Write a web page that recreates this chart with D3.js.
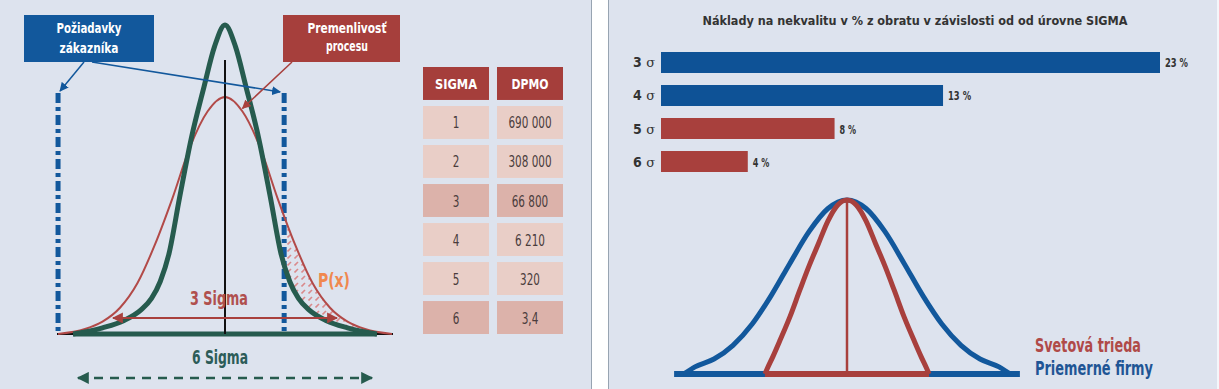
<!DOCTYPE html>
<html>
<head>
<meta charset="utf-8">
<script src="https://cdn.jsdelivr.net/npm/d3@7"></script>
<style>
  body { margin: 0; background: #dde3ee; }
  svg { display: block; }
</style>
</head>
<body>
<div id="chart"></div>
<script>
// ---- data ----
// table: sigma level vs defects per million opportunities
var tableSigma = ["1", "2", "3", "4", "5", "6"];
var tableDpmo = ["690 000", "308 000", "66 800", "6 210", "320", "3,4"];
var tableDark = [false, false, true, false, false, true];

// cost of poor quality (% of turnover) by sigma level
var costLevels = ["3", "4", "5", "6"];
var costPct = [23, 13, 8, 4];
var costGroup = ["avg", "avg", "world", "world"];

// left diagram, half curves (x in sigma units from centre, relative height)
var narrowX = [0, 0.3, 0.6, 0.95, 1.3, 1.6, 1.85, 2.1, 2.4, 2.9, 3.5, 4.34];
var narrowH = [1, 0.93, 0.8, 0.64, 0.44, 0.26, 0.17, 0.115, 0.078, 0.043, 0.02, 0];
var wideX = [0, 0.5, 1, 1.5, 2, 2.5, 3, 3.5, 4, 4.77];
var wideH = [0.767, 0.72, 0.605, 0.44, 0.29, 0.165, 0.085, 0.04, 0.016, 0];
var specLimits = [-4.77, 1.69];

// right diagram, half curves
var avgX = [0, 0.5, 1, 1.5, 2, 2.5, 3, 3.5, 4, 4.3];
var avgH = [1, 0.951, 0.818, 0.637, 0.449, 0.286, 0.165, 0.086, 0.041, 0];
var worldX = [0, 0.25, 0.5, 0.75, 1, 1.24, 1.5, 1.76, 1.95, 2.1, 2.16];
var worldH = [1, 0.97, 0.88, 0.75, 0.62, 0.483, 0.33, 0.195, 0.1, 0.03, 0];

var W = 1219, H = 389;
var BG = "#dde3ee";
var BLUE = "#12589c";
var RED = "#a8403d";
var GREEN = "#265b4e";
var FONT = "'Liberation Sans Narrow','Arial Narrow','DejaVu Sans Condensed',sans-serif";

//mirror a half curve into a full list of points
function fullCurve(xs, hs) {
    var pts = [];
    for (var i = xs.length - 1; i > 0; i--) pts.push([-xs[i], hs[i]]);
    for (var j = 0; j < xs.length; j++) pts.push([xs[j], hs[j]]);
    return pts;
}

function label(g, x, y, str, size, color, len, anchor, weight) {
    var t = g.append("text")
        .attr("x", x)
        .attr("y", y)
        .attr("font-family", FONT)
        .attr("font-size", size + "px")
        .attr("font-weight", weight || "bold")
        .attr("fill", color)
        .attr("text-anchor", anchor || "middle")
        .text(str);
    if (len) t.attr("textLength", len).attr("lengthAdjust", "spacingAndGlyphs");
    return t;
}

//rough width of the condensed numbers in the table
function numWidth(s) {
    var w = 0;
    for (var i = 0; i < s.length; i++) w += (s[i] === " " || s[i] === ",") ? 3.5 : 6.6;
    return w;
}

var svg = d3.select("#chart")
    .append("svg")
    .attr("width", W)
    .attr("height", H);

var defs = svg.append("defs");

function arrowMarker(id, color, size) {
    defs.append("marker")
        .attr("id", id)
        .attr("viewBox", "0 0 10 10")
        .attr("refX", 9)
        .attr("refY", 5)
        .attr("markerWidth", size)
        .attr("markerHeight", size)
        .attr("markerUnits", "userSpaceOnUse")
        .attr("orient", "auto-start-reverse")
        .append("path")
        .attr("d", "M0,0 L10,5 L0,10 z")
        .attr("fill", color);
}
arrowMarker("arBlue", BLUE, 9);
arrowMarker("arRed", RED, 9);
arrowMarker("arRed2", RED, 11);
arrowMarker("arGreen", GREEN, 12);

var hatch = defs.append("pattern")
    .attr("id", "hatch")
    .attr("patternUnits", "userSpaceOnUse")
    .attr("width", 7)
    .attr("height", 7);
hatch.append("path")
    .attr("d", "M0.5,6.5 L4,3")
    .attr("stroke", "#d98a8c")
    .attr("stroke-width", 1.6);

svg.append("rect").attr("width", W).attr("height", H).attr("fill", BG);

// panel separator and right edge
svg.append("rect").attr("x", 591).attr("y", 0).attr("width", 17).attr("height", H).attr("fill", "#ffffff");
svg.append("line").attr("x1", 591.5).attr("x2", 591.5).attr("y1", 0).attr("y2", H).attr("stroke", "#98a4b2");
svg.append("line").attr("x1", 608.5).attr("x2", 608.5).attr("y1", 0).attr("y2", H).attr("stroke", "#98a4b2");
svg.append("rect").attr("x", 1217).attr("y", 0).attr("width", 2).attr("height", H).attr("fill", "#f4f6fa");

// ================= left diagram =================
var left = svg.append("g");
var xL = d3.scaleLinear().domain([-5, 5]).range([50, 400]);
var yL = d3.scaleLinear().domain([0, 1]).range([334, 25]);

var lineL = d3.line()
    .x(function (d) { return xL(d[0]); })
    .y(function (d) { return yL(d[1]); })
    .curve(d3.curveMonotoneX);
var areaL = d3.area()
    .x(function (d) { return xL(d[0]); })
    .y0(yL(0))
    .y1(function (d) { return yL(d[1]); })
    .curve(d3.curveMonotoneX);

var narrowPts = fullCurve(narrowX, narrowH);
var widePts = fullCurve(wideX, wideH);

//hatched tail P(x): under the wide curve, outside the spec limit, not under the narrow one
defs.append("clipPath").attr("id", "underWide")
    .append("path").attr("d", areaL(widePts));
var tail = left.append("g").attr("clip-path", "url(#underWide)");
tail.append("rect")
    .attr("x", xL(specLimits[1]))
    .attr("y", yL(1))
    .attr("width", xL(5) - xL(specLimits[1]))
    .attr("height", yL(0) - yL(1))
    .attr("fill", "url(#hatch)");
tail.append("path").attr("d", areaL(narrowPts)).attr("fill", BG);

// baselines
left.append("line")
    .attr("x1", xL(-4.8)).attr("x2", xL(4.8))
    .attr("y1", yL(0)).attr("y2", yL(0))
    .attr("stroke", "#111").attr("stroke-width", 2);

// spec limit lines
left.selectAll(".spec")
    .data(specLimits)
    .enter().append("line")
    .attr("class", "spec")
    .attr("x1", function (d) { return xL(d); })
    .attr("x2", function (d) { return xL(d); })
    .attr("y1", yL(0.78))
    .attr("y2", yL(0))
    .attr("stroke", BLUE)
    .attr("stroke-width", 5)
    .attr("stroke-dasharray", "10,4,4,4");

left.append("line")
    .attr("x1", xL(-4.34)).attr("x2", xL(4.34))
    .attr("y1", yL(0)).attr("y2", yL(0))
    .attr("stroke", GREEN).attr("stroke-width", 5);

left.append("path")
    .attr("d", lineL(widePts))
    .attr("fill", "none")
    .attr("stroke", "#b24a48")
    .attr("stroke-width", 2);

left.append("path")
    .attr("d", lineL(narrowPts))
    .attr("fill", "none")
    .attr("stroke", GREEN)
    .attr("stroke-width", 5);

left.append("line")
    .attr("x1", xL(0)).attr("x2", xL(0))
    .attr("y1", yL(0)).attr("y2", yL(0.887))
    .attr("stroke", "#111").attr("stroke-width", 2);

// 3 sigma arrow
left.append("line")
    .attr("x1", xL(-3.2)).attr("x2", xL(3.2))
    .attr("y1", yL(0.052)).attr("y2", yL(0.052))
    .attr("stroke", RED).attr("stroke-width", 2)
    .attr("marker-start", "url(#arRed2)")
    .attr("marker-end", "url(#arRed2)");
label(left, 219, 305, "3 Sigma", 19, "#b0504e", 58);

// 6 sigma dashed arrow
left.append("line")
    .attr("x1", xL(-4.2)).attr("x2", xL(4.2))
    .attr("y1", yL(-0.142)).attr("y2", yL(-0.142))
    .attr("stroke", GREEN).attr("stroke-width", 2.5)
    .attr("stroke-dasharray", "9,7")
    .attr("marker-start", "url(#arGreen)")
    .attr("marker-end", "url(#arGreen)");
label(left, 220, 364, "6 Sigma", 19, "#2c5c58", 56);

label(left, 334, 287, "P(x)", 20, "#f0884e", 32);

// callout boxes
left.append("rect").attr("x", 24).attr("y", 15).attr("width", 130).attr("height", 47).attr("fill", BLUE);
label(left, 89, 33, "Požiadavky", 14, "#fff", 65);
label(left, 89, 53, "zákazníka", 14, "#fff", 59);
left.append("line")
    .attr("x1", 84).attr("y1", 62)
    .attr("x2", xL(specLimits[0]) + 2).attr("y2", yL(0.78) - 2)
    .attr("stroke", BLUE).attr("stroke-width", 1.5)
    .attr("marker-end", "url(#arBlue)");
left.append("line")
    .attr("x1", 92).attr("y1", 62)
    .attr("x2", xL(specLimits[1]) - 4).attr("y2", yL(0.78) - 1)
    .attr("stroke", BLUE).attr("stroke-width", 1.5)
    .attr("marker-end", "url(#arBlue)");

left.append("rect").attr("x", 283).attr("y", 15).attr("width", 117).attr("height", 47).attr("fill", "#a63f3c");
label(left, 347, 33, "Premenlivosť", 14, "#fff", 79);
label(left, 347, 51, "procesu", 14, "#fff", 42);
left.append("line")
    .attr("x1", 292).attr("y1", 62)
    .attr("x2", xL(0.5)).attr("y2", yL(0.73))
    .attr("stroke", RED).attr("stroke-width", 1.5)
    .attr("marker-end", "url(#arRed)");

// ---- table ----
var tbl = svg.append("g");
var colX = d3.scaleBand().domain(["SIGMA", "DPMO"]).range([423, 563]).paddingInner(0.108);
var rowY = d3.scaleBand().domain(["head"].concat(tableSigma)).range([67, 334]).paddingInner(0.155);

colX.domain().forEach(function (c) {
    tbl.append("rect")
        .attr("x", colX(c)).attr("y", rowY("head"))
        .attr("width", colX.bandwidth()).attr("height", rowY.bandwidth())
        .attr("fill", "#a53e3b");
    label(tbl, colX(c) + colX.bandwidth() / 2, rowY("head") + rowY.bandwidth() / 2 + 6,
        c, 14, "#fff", c === "SIGMA" ? 42 : 37);
});

var rows = tbl.selectAll(".row")
    .data(tableSigma)
    .enter().append("g")
    .attr("class", "row");

rows.each(function (s, i) {
    var g = d3.select(this);
    var fill = tableDark[i] ? "#dcb2aa" : "#e9cec7";
    var cells = [s, tableDpmo[i]];
    colX.domain().forEach(function (c, k) {
        g.append("rect")
            .attr("x", colX(c)).attr("y", rowY(s))
            .attr("width", colX.bandwidth()).attr("height", rowY.bandwidth())
            .attr("fill", fill);
        label(g, colX(c) + colX.bandwidth() / 2, rowY(s) + rowY.bandwidth() / 2 + 6,
            cells[k], 16, "#4a3c3c", numWidth(cells[k]), "middle", "normal");
    });
});

// ================= right panel =================
var right = svg.append("g");
label(right, 915, 25, "Náklady na nekvalitu v % z obratu v závislosti od od úrovne SIGMA", 13, "#333", 425);

var xB = d3.scaleLinear().domain([0, 23]).range([661, 1160]);
var yB = d3.scaleBand().domain(costLevels).range([52, 172]).paddingInner(0.364);
var barColor = { avg: "#0e5296", world: RED };

right.selectAll(".bar")
    .data(costLevels)
    .enter().append("rect")
    .attr("class", "bar")
    .attr("x", xB(0))
    .attr("y", function (d) { return yB(d); })
    .attr("width", function (d, i) { return xB(costPct[i]) - xB(0); })
    .attr("height", yB.bandwidth())
    .attr("fill", function (d, i) { return barColor[costGroup[i]]; });

right.selectAll(".val")
    .data(costLevels)
    .enter().append("text")
    .attr("class", "val")
    .attr("x", function (d, i) { return xB(costPct[i]) + 5; })
    .attr("y", function (d) { return yB(d) + yB.bandwidth() / 2 + 5; })
    .attr("font-family", FONT)
    .attr("font-size", "13px")
    .attr("font-weight", "bold")
    .attr("fill", "#333")
    .attr("textLength", function (d, i) { return String(costPct[i]).length * 6.5 + 10; })
    .attr("lengthAdjust", "spacingAndGlyphs")
    .text(function (d, i) { return costPct[i] + " %"; });

var ticks = right.selectAll(".lvl")
    .data(costLevels)
    .enter().append("text")
    .attr("class", "lvl")
    .attr("x", xB(0) - 6)
    .attr("y", function (d) { return yB(d) + yB.bandwidth() / 2 + 5; })
    .attr("text-anchor", "end")
    .attr("font-family", FONT)
    .attr("font-size", "14px")
    .attr("fill", "#333");
ticks.append("tspan").attr("font-weight", "bold").text(function (d) { return d + " "; });
ticks.append("tspan").attr("font-family", "'DejaVu Serif',serif").attr("font-size", "13px").text("σ");

// bell curves
var xR = d3.scaleLinear().domain([-5, 5]).range([657, 1037]);
var yR = d3.scaleLinear().domain([0, 1]).range([374, 200]);
var lineR = d3.line()
    .x(function (d) { return xR(d[0]); })
    .y(function (d) { return yR(d[1]); })
    .curve(d3.curveMonotoneX);

right.append("line")
    .attr("x1", xR(-4.55)).attr("x2", xR(4.55))
    .attr("y1", yR(0)).attr("y2", yR(0))
    .attr("stroke", BLUE).attr("stroke-width", 6);
right.append("path")
    .attr("d", lineR(fullCurve(avgX, avgH)))
    .attr("fill", "none")
    .attr("stroke", BLUE)
    .attr("stroke-width", 5);
right.append("line")
    .attr("x1", xR(-2.16)).attr("x2", xR(2.16))
    .attr("y1", yR(0)).attr("y2", yR(0))
    .attr("stroke", RED).attr("stroke-width", 6);
right.append("path")
    .attr("d", lineR(fullCurve(worldX, worldH)))
    .attr("fill", "none")
    .attr("stroke", RED)
    .attr("stroke-width", 5)
    .attr("stroke-linejoin", "round");
right.append("line")
    .attr("x1", xR(0)).attr("x2", xR(0))
    .attr("y1", yR(0)).attr("y2", yR(1))
    .attr("stroke", RED).attr("stroke-width", 2.5);

label(right, 1035, 352, "Svetová trieda", 20, "#b04a48", 106, "start");
label(right, 1035, 375, "Priemerné firmy", 20, "#1f5595", 118, "start");
</script>
</body>
</html>
